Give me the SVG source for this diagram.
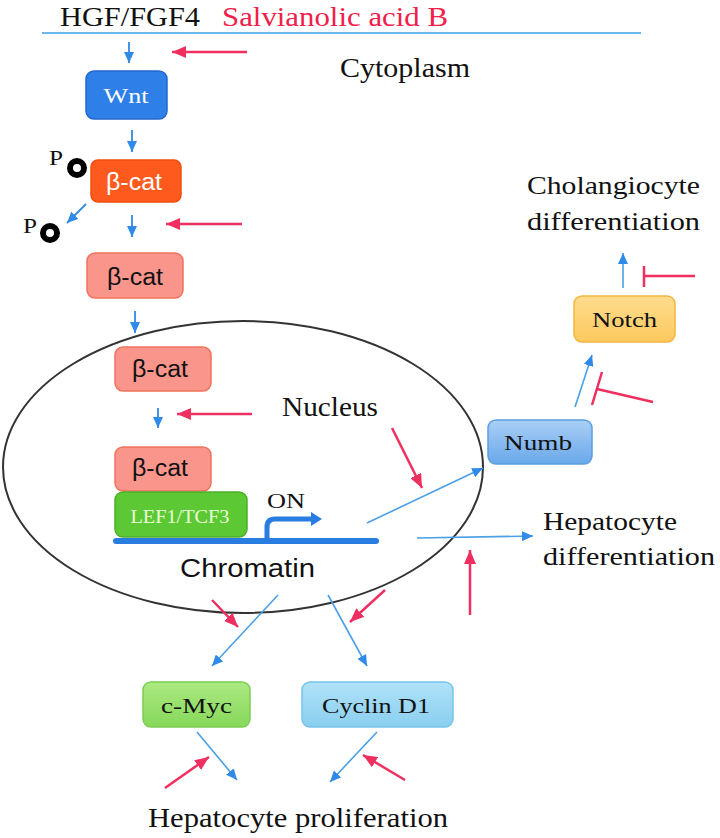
<svg xmlns="http://www.w3.org/2000/svg" width="720" height="838" viewBox="0 0 720 838">
<style>
.s{font-family:"Liberation Serif","Times New Roman",serif;fill:#111}
.ss{font-family:"Liberation Sans",Arial,sans-serif;fill:#111}
.b{stroke:#2f8ae8;stroke-width:1.8;fill:none}
.r{stroke:#ee2f5f;stroke-width:2.5;fill:none}
.lb{stroke:#4a9fe6;stroke-width:1.6;fill:none}
.box{stroke-width:1.5}
</style>
<defs>
<marker id="ab" markerUnits="userSpaceOnUse" markerWidth="11" markerHeight="10" refX="11" refY="5" orient="auto"><path d="M0,0 L11,5 L0,10 z" fill="#2f8ae8"/></marker>
<marker id="ar" markerUnits="userSpaceOnUse" markerWidth="14" markerHeight="12" refX="14" refY="6" orient="auto"><path d="M0,0 L14,6 L0,12 z" fill="#ee2f5f"/></marker>
<linearGradient id="gNumb" x1="0" y1="0" x2="0" y2="1"><stop offset="0" stop-color="#a9cff5"/><stop offset="1" stop-color="#6aa8ea"/></linearGradient>
<linearGradient id="gNotch" x1="0" y1="0" x2="0" y2="1"><stop offset="0" stop-color="#fedc8e"/><stop offset="1" stop-color="#fcc95e"/></linearGradient>
<linearGradient id="gMyc" x1="0" y1="0" x2="0" y2="1"><stop offset="0" stop-color="#ace982"/><stop offset="1" stop-color="#86d85a"/></linearGradient>
<linearGradient id="gCyc" x1="0" y1="0" x2="0" y2="1"><stop offset="0" stop-color="#b0e2f7"/><stop offset="1" stop-color="#8acff0"/></linearGradient>
</defs>

<!-- membrane and labels -->
<line x1="42" y1="33" x2="641" y2="33" stroke="#6cb8ec" stroke-width="2"/>
<text class="s" x="60" y="26" font-size="28" textLength="140" lengthAdjust="spacingAndGlyphs">HGF/FGF4</text>
<text class="s" x="222" y="26" font-size="27" textLength="226" lengthAdjust="spacingAndGlyphs" style="fill:#f0204a">Salvianolic acid B</text>
<text class="s" x="340" y="77" font-size="27" textLength="130" lengthAdjust="spacingAndGlyphs">Cytoplasm</text>

<!-- nucleus -->
<g id="nucleus">
<ellipse cx="243" cy="467" rx="240" ry="146" fill="none" stroke="#333" stroke-width="2"/>
<text class="s" x="282" y="416" font-size="28" textLength="96" lengthAdjust="spacingAndGlyphs">Nucleus</text>
</g>

<g id="wnt">
<rect class="box" x="86" y="71" width="81" height="48" rx="8" fill="#2e7fe8" stroke="#2468cc"/>
<text class="s" x="126" y="103" font-size="22" text-anchor="middle" textLength="45" lengthAdjust="spacingAndGlyphs" style="fill:#fff">Wnt</text>
</g>

<g id="p1">
<text class="s" x="49" y="165" font-size="20" textLength="14" lengthAdjust="spacingAndGlyphs">P</text>
<circle cx="77" cy="168" r="7" fill="#fff" stroke="#000" stroke-width="6"/>
</g>
<g id="p2">
<text class="s" x="23" y="233" font-size="20" textLength="14" lengthAdjust="spacingAndGlyphs">P</text>
<circle cx="50" cy="233" r="7" fill="#fff" stroke="#000" stroke-width="6"/>
</g>

<g id="bcat1">
<rect class="box" x="91" y="160" width="90" height="42" rx="7" fill="#ff5a1e" stroke="#f04e10"/>
<text class="ss" x="134" y="190" font-size="23" text-anchor="middle" textLength="56" lengthAdjust="spacingAndGlyphs" style="fill:#fff">β-cat</text>
</g>
<g id="bcat2">
<rect class="box" x="87" y="253" width="96" height="45" rx="8" fill="#f9958a" stroke="#f0735e"/>
<text class="ss" x="135" y="285" font-size="23" text-anchor="middle" textLength="56" lengthAdjust="spacingAndGlyphs">β-cat</text>
</g>
<g id="bcat3">
<rect class="box" x="115" y="347" width="96" height="44" rx="8" fill="#f9958a" stroke="#f0735e"/>
<text class="ss" x="160" y="377" font-size="23" text-anchor="middle" textLength="56" lengthAdjust="spacingAndGlyphs">β-cat</text>
</g>
<g id="bcat4">
<rect class="box" x="115" y="447" width="96" height="44" rx="8" fill="#f9958a" stroke="#f0735e"/>
<text class="ss" x="160" y="476" font-size="23" text-anchor="middle" textLength="56" lengthAdjust="spacingAndGlyphs">β-cat</text>
</g>
<g id="lef1">
<rect class="box" x="115" y="492" width="132" height="45" rx="8" fill="#5cc934" stroke="#4dae28"/>
<text class="s" x="180" y="523" font-size="19" text-anchor="middle" textLength="99" lengthAdjust="spacingAndGlyphs" style="fill:#eaffd8">LEF1/TCF3</text>
</g>

<g id="chromatin">
<line x1="116" y1="541" x2="376" y2="541" stroke="#2a7de0" stroke-width="6" stroke-linecap="round"/>
<path d="M267,539 V527 Q267,519 275,519 H313" fill="none" stroke="#2a7de0" stroke-width="5"/>
<polygon points="311,512 322,519 311,526" fill="#2a7de0"/>
<text class="s" x="267" y="508" font-size="22" textLength="38" lengthAdjust="spacingAndGlyphs">ON</text>
<text class="ss" x="180" y="577" font-size="26" textLength="135" lengthAdjust="spacingAndGlyphs">Chromatin</text>
</g>

<g id="numb">
<rect class="box" x="488" y="420" width="104" height="44" rx="8" fill="url(#gNumb)" stroke="#5b9de0"/>
<text class="s" x="538" y="450" font-size="22" text-anchor="middle" textLength="68" lengthAdjust="spacingAndGlyphs">Numb</text>
</g>
<g id="notch">
<rect class="box" x="574" y="296" width="101" height="46" rx="8" fill="url(#gNotch)" stroke="#f4b53f"/>
<text class="s" x="624.5" y="327" font-size="22" text-anchor="middle" textLength="65" lengthAdjust="spacingAndGlyphs">Notch</text>
</g>
<g id="cmyc">
<rect class="box" x="143" y="682" width="107" height="45" rx="8" fill="url(#gMyc)" stroke="#7ccd50"/>
<text class="s" x="196.5" y="713" font-size="22" text-anchor="middle" textLength="71" lengthAdjust="spacingAndGlyphs">c-Myc</text>
</g>
<g id="cyclin">
<rect class="box" x="302" y="682" width="151" height="45" rx="8" fill="url(#gCyc)" stroke="#78c4ea"/>
<text class="s" x="376" y="713" font-size="22" text-anchor="middle" textLength="108" lengthAdjust="spacingAndGlyphs">Cyclin D1</text>
</g>

<g id="chol">
<text class="s" x="527" y="194" font-size="25" textLength="173" lengthAdjust="spacingAndGlyphs">Cholangiocyte</text>
<text class="s" x="527" y="230" font-size="25" textLength="173" lengthAdjust="spacingAndGlyphs">differentiation</text>
</g>
<g id="hepdiff">
<text class="s" x="543" y="530" font-size="25" textLength="134" lengthAdjust="spacingAndGlyphs">Hepatocyte</text>
<text class="s" x="543" y="565" font-size="25" textLength="172" lengthAdjust="spacingAndGlyphs">differentiation</text>
</g>
<g id="hepprol">
<text class="s" x="148" y="827" font-size="27" textLength="300" lengthAdjust="spacingAndGlyphs">Hepatocyte  proliferation</text>
</g>

<g id="connectors">
<line class="b" x1="129" y1="42" x2="129" y2="63" marker-end="url(#ab)"/>
<line class="b" x1="132" y1="130" x2="132" y2="152" marker-end="url(#ab)"/>
<line class="b" x1="86" y1="204" x2="67" y2="223" marker-end="url(#ab)"/>
<line class="b" x1="132" y1="215" x2="132" y2="237" marker-end="url(#ab)"/>
<line class="b" x1="135" y1="311" x2="135" y2="333" marker-end="url(#ab)"/>
<line class="b" x1="158" y1="408" x2="158" y2="428" marker-end="url(#ab)"/>

<line class="r" x1="247" y1="52" x2="172" y2="52" marker-end="url(#ar)"/>
<line class="r" x1="242" y1="224" x2="166" y2="224" marker-end="url(#ar)"/>
<line class="r" x1="252" y1="414" x2="177" y2="414" marker-end="url(#ar)"/>
<line class="r" x1="392" y1="428" x2="422" y2="488" marker-end="url(#ar)"/>
<line class="r" x1="470" y1="615" x2="470" y2="550" marker-end="url(#ar)"/>

<line class="lb" x1="367" y1="523" x2="483" y2="468" marker-end="url(#ab)"/>
<line class="lb" x1="417" y1="538" x2="533" y2="536" marker-end="url(#ab)"/>
<line class="lb" x1="575" y1="407" x2="592" y2="355" marker-end="url(#ab)"/>
<line class="lb" x1="623" y1="288" x2="623" y2="253" marker-end="url(#ab)"/>

<line class="r" x1="695" y1="276" x2="644" y2="276"/>
<line class="r" x1="644" y1="266" x2="644" y2="287"/>
<line class="r" x1="653" y1="402" x2="597" y2="389"/>
<line class="r" x1="602" y1="372" x2="592" y2="405"/>

<line class="lb" x1="278" y1="595" x2="212" y2="666" marker-end="url(#ab)"/>
<line class="lb" x1="328" y1="595" x2="367" y2="666" marker-end="url(#ab)"/>
<line class="r" x1="212" y1="600" x2="238" y2="627" marker-end="url(#ar)"/>
<line class="r" x1="385" y1="590" x2="350" y2="622" marker-end="url(#ar)"/>

<line class="lb" x1="197" y1="732" x2="237" y2="780" marker-end="url(#ab)"/>
<line class="r" x1="165" y1="788" x2="209" y2="757" marker-end="url(#ar)"/>
<line class="lb" x1="377" y1="732" x2="330" y2="782" marker-end="url(#ab)"/>
<line class="r" x1="405" y1="780" x2="363" y2="755" marker-end="url(#ar)"/>
</g>
</svg>
